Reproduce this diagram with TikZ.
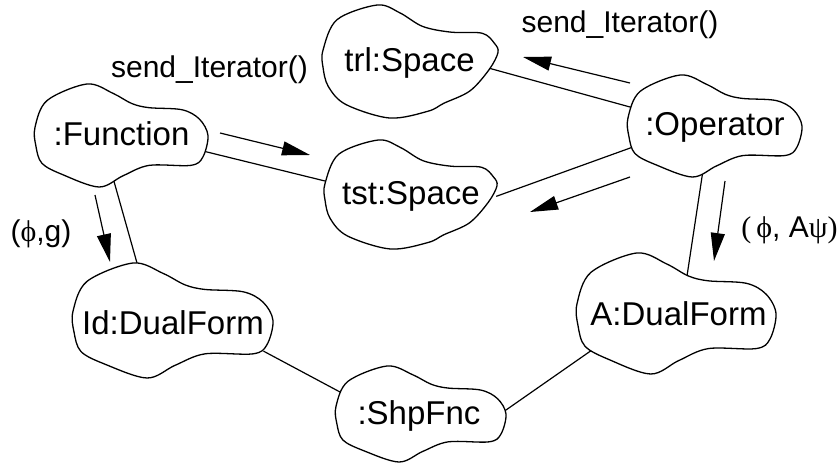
\documentclass[tikz,border=0pt]{standalone}
\usepackage{fontspec}
\setmainfont{Liberation Sans}
\newfontfamily\grk{Liberation Serif}
\usetikzlibrary{arrows.meta,calc}
\pgfdeclarelayer{links}
\pgfsetlayers{links,main}

\tikzset{
  cloudline/.style={draw=black, line width=1.3pt, fill=white, line join=round},
  objlabel/.style={inner sep=0pt, font=\fontsize{33}{36}\selectfont},
  link/.style={draw=black, line width=1.2pt, shorten <=-4pt, shorten >=-4pt},
  msg/.style={draw=black, line width=1.2pt, -{Triangle[length=28pt,width=14pt]}},
  msglabel/.style={inner sep=0pt, anchor=base, font=\fontsize{30}{34}\selectfont},
}

% object cloud, type A: centre x, centre y, width, height
\newcommand\cloudA[4]{%
  \begin{scope}[shift={(#1-#3/2,#2-#4/2)}, xscale=#3, yscale=#4]
    \path[cloudline] plot[smooth cycle, tension=0.55] coordinates {
      (0,0.42) (0.07,0.16) (0.3,0) (0.45,0.09) (0.56,0.19) (0.66,0.23)
      (0.85,0.25) (0.95,0.34) (1,0.5) (0.97,0.71) (0.9,0.79) (0.66,0.79)
      (0.51,0.89) (0.37,1) (0.16,0.88) (0.04,0.77) (0.005,0.6)};
  \end{scope}}
% object cloud, type B (the two spaces)
\newcommand\cloudB[4]{%
  \begin{scope}[shift={(#1-#3/2,#2-#4/2)}, xscale=#3, yscale=#4]
    \path[cloudline] plot[smooth cycle, tension=0.55] coordinates {
      (0,0.4) (0.08,0.13) (0.31,0) (0.44,0.07) (0.57,0.19) (0.73,0.24)
      (0.91,0.25) (0.98,0.34) (1,0.42) (0.95,0.57) (0.84,0.76) (0.69,0.87)
      (0.6,0.94) (0.38,1) (0.13,0.88) (0.03,0.72) (0,0.55)};
  \end{scope}}

\begin{document}
\begin{tikzpicture}[x=1pt, y=-1pt]
  \useasboundingbox (0,0) rectangle (839,463);

  % objects
  \cloudA{121.5}{135.5}{173}{103}
  \node[objlabel, minimum width=173pt, minimum height=103pt] (fn) at (121.5,133.5) {:Function};
  \cloudB{410.5}{61.5}{175}{113}
  \node[objlabel, minimum width=175pt, minimum height=113pt] (trl) at (409.5,62.5) {trl:Space};
  \cloudB{411}{194.5}{172}{109}
  \node[objlabel, minimum width=172pt, minimum height=109pt] (tst) at (411,196.5) {tst:Space};
  \cloudA{715}{126}{174}{102}
  \node[objlabel, minimum width=174pt, minimum height=102pt] (op) at (715,127) {:Operator};
  \cloudA{173}{320.5}{200}{115}
  \node[objlabel, minimum width=200pt, minimum height=115pt] (id) at (173,322.5) {Id:DualForm};
  \cloudA{676.5}{313.5}{199}{121}
  \node[objlabel, minimum width=199pt, minimum height=121pt] (ad) at (678.5,313.5) {A:DualForm};
  \cloudA{421}{414}{170}{96}
  \node[objlabel, minimum width=170pt, minimum height=96pt] (shp) at (419,416) {:ShpFnc};

  % links between objects
  \begin{pgfonlayer}{links}
    \draw[link] ($(fn)+(85.5,18.5)$) -- ($(tst)+(-86,-15.5)$);
    \draw[link] ($(fn)+(-6.5,51.5)$) -- ($(id)+(-36,-59.5)$);
    \draw[link] ($(trl)+(82.5,6.5)$) -- ($(op)+(-85,-20)$);
    \draw[link] ($(op)+(-82,20)$) -- ($(tst)+(89,-1.5)$);
    \draw[link] ($(op)+(-13,50)$) -- ($(ad)+(8.5,-37.5)$);
    \draw[link] ($(id)+(94,30.5)$) -- ($(shp)+(-79,-24)$);
    \draw[link] ($(shp)+(87,-6)$) -- ($(ad)+(-86.5,36.5)$);
  \end{pgfonlayer}

  % messages
  \draw[msg] ($(fn)+(98.5,-0.5)$) -- ($(tst)+(-101,-41.5)$);
  \draw[msg] ($(fn)+(-26.5,61.5)$) -- ($(id)+(-63,-60.5)$);
  \draw[msg] ($(op)+(-85,-44)$) -- ($(trl)+(113.5,-5.5)$);
  \draw[msg] ($(op)+(-85,50)$) -- ($(tst)+(119,15.5)$);
  \draw[msg] ($(op)+(10,54)$) -- ($(ad)+(35.5,-52.5)$);

  % message labels
  \node[msglabel] (m1) at (209.5,77) {send\_Iterator()};
  \node[msglabel] (m2) at (620,32) {send\_Iterator()};
  \node[msglabel] (m3) at (41,241) {({\grk ϕ},g)};
  \node[msglabel] (m4) at (789.5,237) {{\grk (\,ϕ}, A{\grk ψ)}};
\end{tikzpicture}
\end{document}
